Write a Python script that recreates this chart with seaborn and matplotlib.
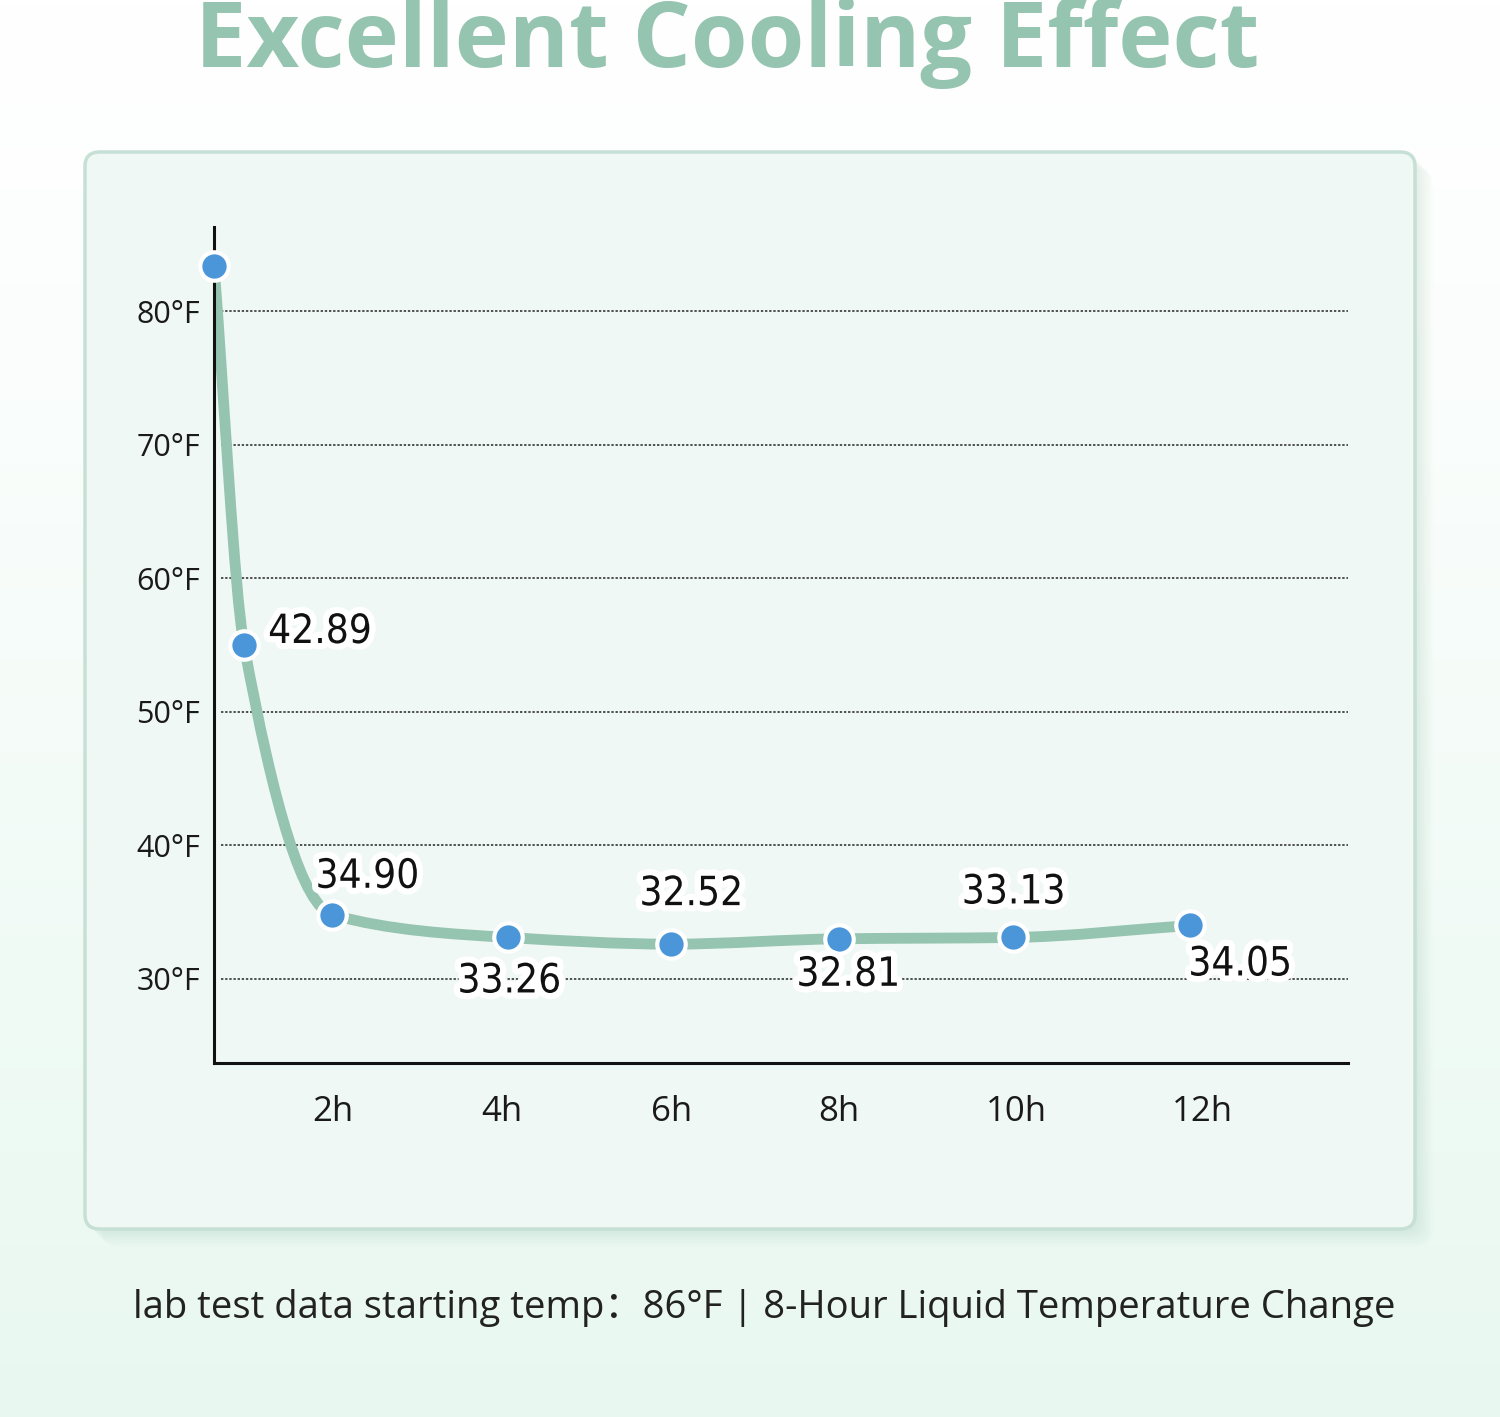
import numpy as np
import pandas as pd
import matplotlib
matplotlib.use("Agg")
import matplotlib.pyplot as plt
import seaborn as sns
from matplotlib.patches import FancyBboxPatch, PathPatch
from matplotlib.path import Path
import matplotlib.patheffects as pe

# data
hours = [0.62, 0.97, 2.0, 4.05, 5.95, 7.91, 9.93, 12.0]        # x position of each point (h)
temp_pos = [83.4, 55.0, 34.8, 33.1, 32.6, 33.0, 33.1, 34.0]   # drawn height (F)
point_labels = ["", "42.89", "34.90", "33.26", "32.52", "32.81", "33.13", "34.05"]
xtick_vals = [2.0, 3.98, 5.95, 7.91, 9.97, 12.14]
xtick_labels = ["2h", "4h", "6h", "8h", "10h", "12h"]
ytick_vals = [30, 40, 50, 60, 70, 80]
ytick_labels = ["30°F", "40°F", "50°F", "60°F", "70°F", "80°F"]

df = pd.DataFrame({"hours": hours, "temp": temp_pos})

# label offsets in pixels (dx, dy)
label_offsets = [(0, 0), (76, 13), (35, 38), (1, -44), (20, 50), (9, -36), (1, 45), (50, -39)]

green = "#95c4b0"
blue = "#4a96d9"
panel_fill = "#f0f8f5"

sns.set_theme(style="white")
plt.rcParams['font.family'] = ['Open Sans', 'Noto Sans CJK SC', 'DejaVu Sans']

W, H = 1500, 1417
fig = plt.figure(figsize=(W / 100, H / 100), dpi=100)

# background gradient
bg = fig.add_axes([0, 0, 1, 1], zorder=0)
grad = np.linspace(0, 1, 256).reshape(-1, 1)
top = np.array([1.0, 1.0, 1.0])
bot = np.array([0xe8, 0xf8, 0xf0]) / 255
img = top + (bot - top) * grad[..., None] ** 1.2
bg.imshow(img, aspect="auto", extent=[0, 1, 0, 1], origin="upper")
bg.set_xlim(0, 1)
bg.set_ylim(0, 1)
bg.axis("off")

# panel with soft shadow
px0, py0, px1, py1 = 85 / W, 1 - 1229 / H, 1415 / W, 1 - 152 / H
for i in range(8):
    off = (i + 1) * 2.2
    sh = FancyBboxPatch((px0 + off / W, py0 - off / H), px1 - px0, py1 - py0,
                        boxstyle="round,pad=0,rounding_size=0.01",
                        transform=fig.transFigure, facecolor="#9cc2b2",
                        edgecolor="none", alpha=0.03, zorder=1)
    fig.patches.append(sh)
panel = FancyBboxPatch((px0, py0), px1 - px0, py1 - py0,
                       boxstyle="round,pad=0,rounding_size=0.01",
                       transform=fig.transFigure, facecolor=panel_fill,
                       edgecolor="#c6e0d5", linewidth=2.5, zorder=2)
fig.patches.append(panel)

# main chart axes
ax = fig.add_axes([214 / W, 1 - 1063 / H, (1348 - 214) / W, (1063 - 227) / H], zorder=3)
ax.patch.set_alpha(0)
ax.set_xlim(0.62, 13.84)
ax.set_ylim(23.7, 86.3)

for yv in ytick_vals:
    ax.plot([0.7, 13.84], [yv, yv], color="#444444", lw=1.3,
            linestyle=(0, (1.3, 1.0)), zorder=1)

# smooth curve through the points (monotone cubic, drawn as bezier path)
xs = np.array(hours, dtype=float)
ys = np.array(temp_pos, dtype=float)
h = np.diff(xs)
d = np.diff(ys) / h
m = np.zeros_like(xs)
m[0], m[-1] = d[0], d[-1]
for i in range(1, len(xs) - 1):
    if d[i - 1] * d[i] <= 0:
        m[i] = 0
    else:
        w1 = 2 * h[i] + h[i - 1]
        w2 = h[i] + 2 * h[i - 1]
        m[i] = (w1 + w2) / (w1 / d[i - 1] + w2 / d[i])
verts = [(xs[0], ys[0])]
codes = [Path.MOVETO]
for i in range(len(xs) - 1):
    verts += [(xs[i] + h[i] / 3, ys[i] + m[i] * h[i] / 3),
              (xs[i + 1] - h[i] / 3, ys[i + 1] - m[i + 1] * h[i] / 3),
              (xs[i + 1], ys[i + 1])]
    codes += [Path.CURVE4] * 3
ax.add_patch(PathPatch(Path(verts, codes), facecolor="none", edgecolor=green,
                       lw=7.8, capstyle="round", joinstyle="round", zorder=2))

sns.scatterplot(data=df, x="hours", y="temp", ax=ax, s=420, color=blue,
                edgecolor="white", linewidth=3, zorder=4, clip_on=False, legend=False)

halo = [pe.withStroke(linewidth=9, foreground="white")]
for xv, yv, lab, (dx, dy) in zip(hours, temp_pos, point_labels, label_offsets):
    if not lab:
        continue
    ax.annotate(lab, (xv, yv), xytext=(dx, dy), textcoords="offset pixels",
                ha="center", va="center", fontsize=29, color="#111111",
                family="DejaVu Sans", fontstretch="condensed",
                path_effects=halo, zorder=5)

ax.set_xticks(xtick_vals)
ax.set_xticklabels(xtick_labels)
ax.set_yticks(ytick_vals)
ax.set_yticklabels(ytick_labels)
ax.tick_params(axis="x", length=0, pad=23, labelsize=25, labelcolor="#1a1a1a")
ax.tick_params(axis="y", length=0, pad=10, labelsize=22, labelcolor="#1a1a1a")
ax.set_xlabel("")
ax.set_ylabel("")
sns.despine(ax=ax)
for s in ["left", "bottom"]:
    ax.spines[s].set_color("#111111")
    ax.spines[s].set_linewidth(2.2)

# title and footnote
fig.text(727 / W, 1 - 43 / H, "Excellent Cooling Effect", ha="center", va="center",
         fontsize=66, fontweight="bold", color=green, zorder=5)
fig.text(764 / W, 1 - 1308 / H,
         "lab test data starting temp：86°F | 8-Hour Liquid Temperature Change",
         ha="center", va="center", fontsize=27.5, color="#222222", zorder=5)

fig.savefig("out.png", dpi=100)
